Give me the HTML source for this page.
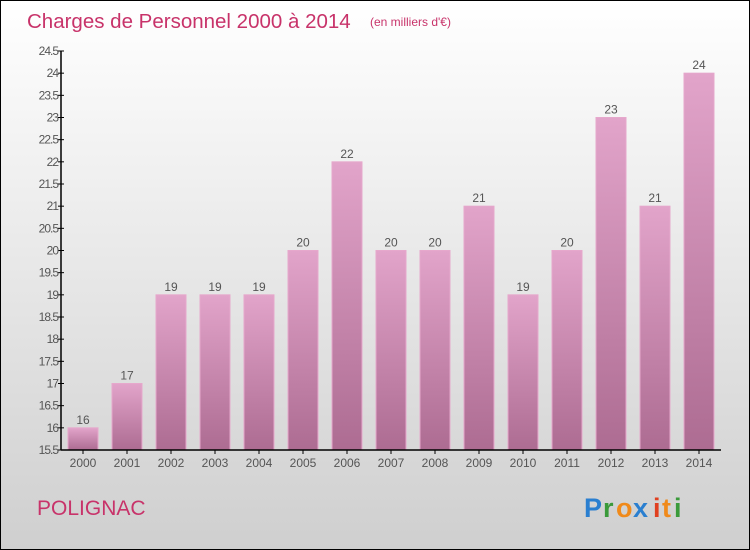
<!DOCTYPE html>
<html><head><meta charset="utf-8"><style>
body{margin:0;}
#wrap{width:748px;height:548px;border:1px solid #000;background:linear-gradient(#ffffff,#cfcfcf);position:relative;font-family:"Liberation Sans",sans-serif;overflow:hidden}
</style></head><body>
<div id="wrap">
<svg id="c" width="748" height="548">
<defs><linearGradient id="g" x1="0" y1="0" x2="0" y2="1"><stop offset="0" stop-color="#e2a4ca"/><stop offset="1" stop-color="#ad6c92"/></linearGradient></defs>
<text x="26" y="27" font-size="20.5" fill="#c8336a">Charges de Personnel 2000 à 2014</text>
<text x="369" y="25" font-size="12" fill="#c8336a">(en milliers d'€)</text>
<text x="36" y="514" font-size="21" fill="#c8336a">POLIGNAC</text>
<g font-size="27" font-weight="bold">
<text x="583" y="516" fill="#2a7fd0">P</text><text x="602" y="516" fill="#3a9a3a">r</text><text x="615" y="516" fill="#f08a1a">o</text><text x="632" y="516" fill="#2a7fd0">x</text><text x="652" y="516" fill="#e04020">i</text><text x="661" y="516" fill="#f08a1a">t</text><text x="673" y="516" fill="#3a9a3a">i</text>
</g>
</svg>
</div>
<script>
const years=["2000","2001","2002","2003","2004","2005","2006","2007","2008","2009","2010","2011","2012","2013","2014"];
const values=[16,17,19,19,19,20,22,20,20,21,19,20,23,21,24];
const yTicks=[15.5,16,16.5,17,17.5,18,18.5,19,19.5,20,20.5,21,21.5,22,22.5,23,23.5,24,24.5];
const svg=document.getElementById('c');const NS='http://www.w3.org/2000/svg';
const x0=60,x1=720,yTop=50,yBot=449,vmin=15.5,vmax=24.5;
const y=v=>yBot-(v-vmin)/(vmax-vmin)*(yBot-yTop);
const slot=(x1-x0)/years.length;
function mk(t,a){const e=document.createElementNS(NS,t);for(const k in a)e.setAttribute(k,a[k]);svg.appendChild(e);return e;}
years.forEach((yr,i)=>{
 const cx=x0+slot*(i+0.5);const v=values[i];
 const b=mk('rect',{x:cx-15,y:y(v),width:30,height:yBot-y(v),fill:'url(#g)',stroke:'#e6a8cc','stroke-width':1});
 
 
 const t=mk('text',{x:cx,y:y(v)-4,'text-anchor':'middle','font-size':12,fill:'#555'});t.textContent=v;
 
 
 const l=mk('text',{x:cx,y:466,'text-anchor':'middle','font-size':12,fill:'#555'});l.textContent=yr;
 
 
 mk('line',{x1:cx,x2:cx,y1:yBot,y2:yBot+4,stroke:'#000'});
});
yTicks.forEach(v=>{
 mk('line',{x1:x0-3,x2:x0+3,y1:y(v),y2:y(v),stroke:'#000'});
 const t=mk('text',{x:x0-3,y:y(v)+4,'text-anchor':'end','font-size':12,fill:'#555','letter-spacing':'-1'});t.textContent=v;
 
 
});
const ya=mk('line',{x1:x0,x2:x0,y1:yTop,y2:yBot,stroke:'#000','stroke-width':1.5});


const xa=mk('line',{x1:x0,x2:x1,y1:yBot,y2:yBot,stroke:'#000','stroke-width':1.5});


</script>
</body></html>
